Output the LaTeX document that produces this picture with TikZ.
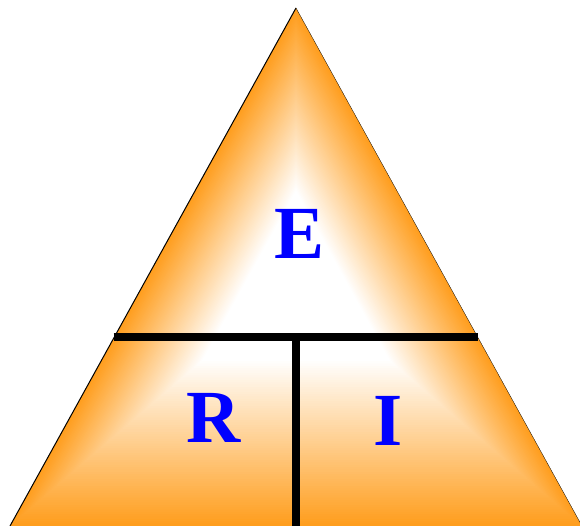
\documentclass[tikz,border=0pt]{standalone}
\usepackage{fontspec}
\setmainfont{Liberation Serif}
\definecolor{myorange}{RGB}{255,158,30}
\definecolor{myblue}{RGB}{0,0,255}
\begin{document}
\begin{tikzpicture}[x=1pt,y=1pt,
  letter/.style={inner sep=0pt,text=myblue,font=\fontsize{75}{75}\selectfont\bfseries},
  divider/.style={line width=8pt,black}]
\useasboundingbox (0,0) rectangle (580,526);
% path gradient with triangular contours
\begin{scope}[shift={(296,246)}]
\foreach \i in {0,...,70}{
  \pgfmathsetmacro{\s}{1-\i*0.67/70}
  \pgfmathsetmacro{\p}{100-\i*100/70}
  \fill[myorange!\p!white] (0,272*\s) -- (-286*\s,-246*\s) -- (286*\s,-246*\s) -- cycle;
}
\end{scope}
\coordinate (apex) at (296,518);
\coordinate (bl) at (10,0);
\coordinate (br) at (582,0);
\draw[black,line width=1pt] (apex) -- (bl);
\draw[black,line width=0.3pt] (apex) -- (br);
\coordinate (hl) at (113.5,188.5);
\coordinate (hr) at (477.5,188.5);
\coordinate (vt) at (296,188.5);
\coordinate (vb) at (296,-2);
\draw[divider] (hl) -- (hr);
\draw[divider] (vt) -- (vb);
\node[letter] (E) at (300,292) {E};
\node[letter] (R) at (214,108) {R};
\node[letter] (I) at (388,105) {I};
\end{tikzpicture}
\end{document}
